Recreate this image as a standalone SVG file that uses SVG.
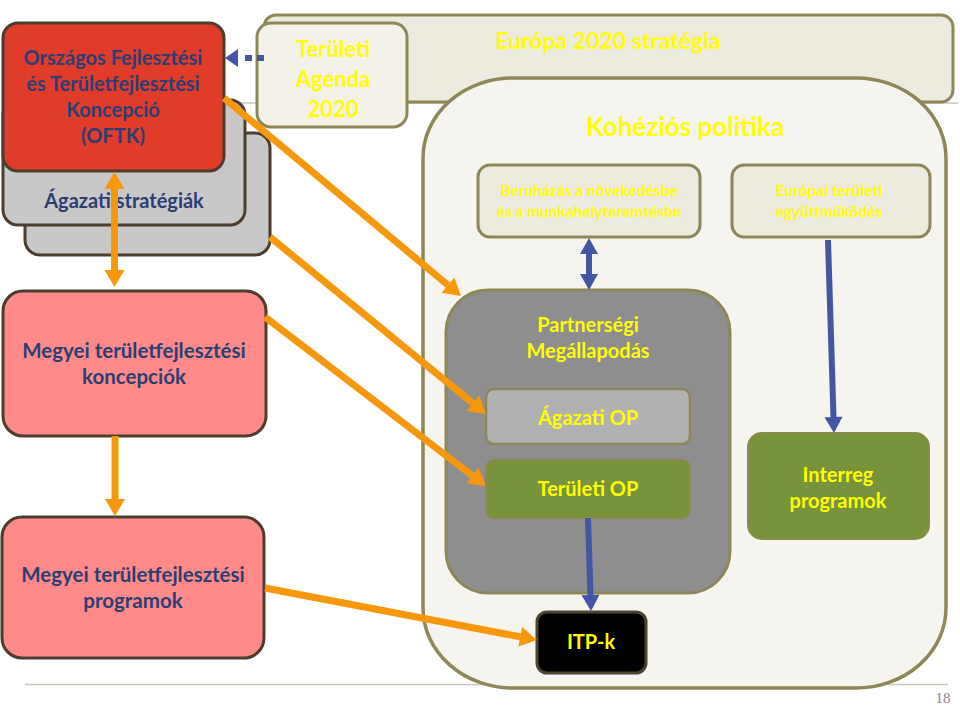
<svg xmlns="http://www.w3.org/2000/svg" width="960" height="708" viewBox="0 0 960 708">
<style>
.navy{font-family:Lato,"Open Sans","Liberation Sans",sans-serif;font-weight:bold;fill:#2C3E73;text-anchor:middle}
.yel{font-family:Lato,"Open Sans","Liberation Sans",sans-serif;font-weight:bold;fill:#FFFF00;text-anchor:middle}
.cream{fill:#EDEADF;stroke:#8E8757;stroke-width:3}
.pink{fill:#FF8A8A;stroke:#4D3D2D;stroke-width:3}
.gray{fill:#C8C8C8;stroke:#4D3D2D;stroke-width:3}
.or{stroke:#F7980C;stroke-width:7;fill:none}
.bl{stroke:#4356A6;stroke-width:6;fill:none}
</style>
<defs>
<marker id="ao" markerUnits="userSpaceOnUse" markerWidth="17" markerHeight="20" refX="0" refY="10" orient="auto-start-reverse" overflow="visible"><path d="M0,0 L17,10 L0,20 z" fill="#F7980C"/></marker>
<marker id="ab" markerUnits="userSpaceOnUse" markerWidth="16" markerHeight="18" refX="0" refY="9" orient="auto-start-reverse" overflow="visible"><path d="M0,0 L16,9 L0,18 z" fill="#4356A6"/></marker>
<marker id="ad" markerUnits="userSpaceOnUse" markerWidth="13" markerHeight="18" refX="0" refY="9" orient="auto" overflow="visible"><path d="M0,0 L13,9 L0,18 z" fill="#4356A6"/></marker>
</defs>
<rect width="960" height="708" fill="#FFFFFF"/>
<g id="slide-lines" stroke="#C9C6BA" stroke-width="1.5">
<line x1="224" y1="103" x2="958" y2="103"/>
<line x1="25" y1="684.5" x2="948" y2="684.5"/>
</g>
<g id="europa2020">
<rect class="cream" x="264" y="15" width="689" height="87" rx="12"/>
<text class="yel" x="608" y="49" font-size="23">Európa 2020 stratégia</text>
</g>
<g id="teruleti-agenda">
<rect x="257" y="23" width="150" height="104" rx="14" fill="#F4F2E8" stroke="#8E8757" stroke-width="3"/>
<text class="yel" x="333" y="57" font-size="22">Területi</text>
<text class="yel" x="333" y="87" font-size="22">Agenda</text>
<text class="yel" x="333" y="117" font-size="22">2020</text>
</g>
<g id="kohezios-politika">
<rect x="423" y="78" width="523" height="610" rx="90" ry="80" fill="#F5F4EE" stroke="#8E8757" stroke-width="3.5"/>
<text class="yel" x="685" y="136" font-size="26">Kohéziós politika</text>
</g>
<g id="beruhazas">
<rect class="cream" x="478" y="165" width="222" height="72" rx="12"/>
<text class="yel" x="589" y="196" font-size="15.5">Beruházás a növekedésbe</text>
<text class="yel" x="589" y="217" font-size="15.5">és a munkahelyteremtésbe</text>
</g>
<g id="europai-teruleti">
<rect class="cream" x="732" y="165" width="198" height="72" rx="12"/>
<text class="yel" x="829" y="196" font-size="15.5">Európai területi</text>
<text class="yel" x="829" y="217" font-size="15.5">együttműködés</text>
</g>
<g id="partnersegi">
<rect x="446" y="290" width="284" height="303" rx="42" fill="#8E8E8E" stroke="#8E8757" stroke-width="3"/>
<text class="yel" x="588" y="332" font-size="20">Partnerségi</text>
<text class="yel" x="588" y="358" font-size="20">Megállapodás</text>
</g>
<g id="agazati-op">
<rect x="486" y="389" width="204" height="55" rx="8" fill="#B1B1B1" stroke="#8E8757" stroke-width="2.5"/>
<text class="yel" x="588" y="425" font-size="20">Ágazati OP</text>
</g>
<g id="teruleti-op">
<rect x="486" y="460" width="204" height="58" rx="8" fill="#77933C" stroke="#8A8A4A" stroke-width="2"/>
<text class="yel" x="588" y="496" font-size="20">Területi OP</text>
</g>
<g id="interreg">
<rect x="748" y="433" width="181" height="106" rx="14" fill="#77933C" stroke="#8A8A4A" stroke-width="2"/>
<text class="yel" x="838" y="482" font-size="20">Interreg</text>
<text class="yel" x="838" y="508" font-size="20">programok</text>
</g>
<g id="itp-k">
<rect x="537" y="612" width="109" height="61" rx="10" fill="#000000" stroke="#4A4530" stroke-width="3"/>
<text class="yel" x="591" y="649" font-size="20">ITP-k</text>
</g>
<g id="agazati-strategiak">
<rect class="gray" x="25" y="133" width="245" height="122" rx="15"/>
<rect class="gray" x="3" y="100" width="242" height="125" rx="15"/>
<text class="navy" x="124" y="208" font-size="20">Ágazati stratégiák</text>
</g>
<g id="oftk">
<rect x="3" y="23" width="221" height="148" rx="15" fill="#E13B2A" stroke="#4D3D2D" stroke-width="3"/>
<text class="navy" x="113" y="65" font-size="20">Országos Fejlesztési</text>
<text class="navy" x="113" y="91" font-size="20">és Területfejlesztési</text>
<text class="navy" x="113" y="117" font-size="20">Koncepció</text>
<text class="navy" x="113" y="143" font-size="20">(OFTK)</text>
</g>
<g id="megyei-koncepciok">
<rect class="pink" x="3" y="291" width="263" height="145" rx="20"/>
<text class="navy" x="134" y="358" font-size="20.5">Megyei területfejlesztési</text>
<text class="navy" x="134" y="384" font-size="20.5">koncepciók</text>
</g>
<g id="megyei-programok">
<rect class="pink" x="2" y="517" width="262" height="141" rx="20"/>
<text class="navy" x="133" y="582" font-size="20.5">Megyei területfejlesztési</text>
<text class="navy" x="133" y="608" font-size="20.5">programok</text>
</g>
<g id="connectors">
<line class="or" x1="114.5" y1="189" x2="114.5" y2="270" marker-start="url(#ao)" marker-end="url(#ao)"/>
<line class="or" x1="115" y1="436" x2="115" y2="499" marker-end="url(#ao)"/>
<line class="or" x1="224" y1="98" x2="447.95" y2="285.1" marker-end="url(#ao)"/>
<line class="or" x1="270" y1="237" x2="472.85" y2="403.23" marker-end="url(#ao)"/>
<line class="or" x1="265" y1="317" x2="472.5" y2="475.67" marker-end="url(#ao)"/>
<line class="or" x1="265" y1="588" x2="520.3" y2="636.8" marker-end="url(#ao)"/>
<line class="bl" x1="589" y1="254" x2="589" y2="274" marker-start="url(#ab)" marker-end="url(#ab)"/>
<line class="bl" x1="828" y1="240" x2="833.5" y2="417" marker-end="url(#ab)"/>
<line class="bl" x1="588" y1="518" x2="590.5" y2="595" marker-end="url(#ab)"/>
<line class="bl" x1="264" y1="58" x2="238" y2="58" stroke-dasharray="7 5 7 7" marker-end="url(#ad)"/>
</g>
<text x="943" y="703" font-family="Liberation Serif,serif" font-size="15" fill="#8A8A8A" text-anchor="middle">18</text>
</svg>
